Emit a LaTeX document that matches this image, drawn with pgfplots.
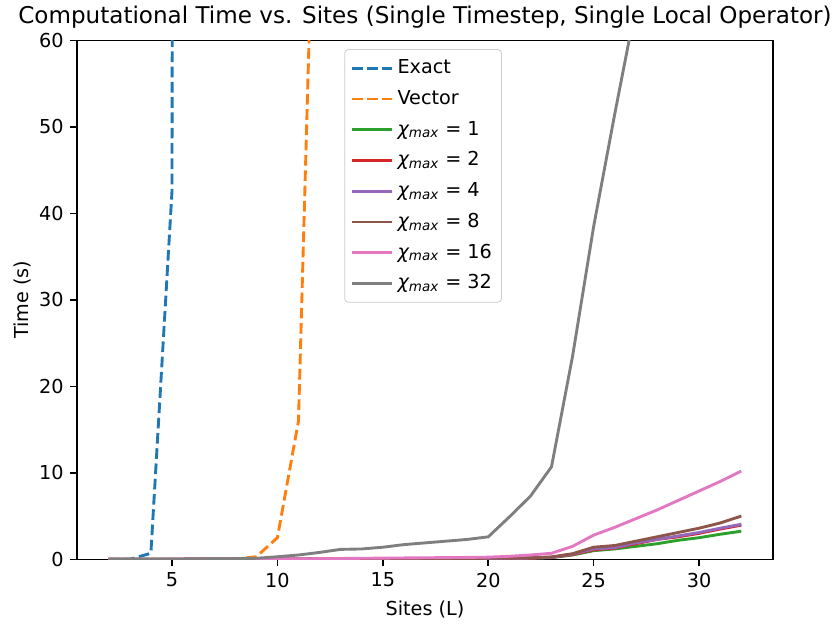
\documentclass[border=0pt]{standalone}
\usepackage{fontspec}
\setmainfont{DejaVu Sans}[ItalicFont={DejaVu Sans Oblique}]
\usepackage{pgfplots}
\usepackage{pgfplotstable}
\pgfplotsset{compat=1.18}
\definecolor{c0}{HTML}{1F77B4}
\definecolor{c1}{HTML}{FF7F0E}
\definecolor{c2}{HTML}{2CA02C}
\definecolor{c3}{HTML}{D62728}
\definecolor{c4}{HTML}{9467BD}
\definecolor{c5}{HTML}{8C564B}
\definecolor{c6}{HTML}{E377C2}
\definecolor{c7}{HTML}{7F7F7F}
\definecolor{lgd}{HTML}{CCCCCC}
\pgfplotstableread{
L exact
2 0.0005
3 0.01
4 0.7
5 42.5
6 1500
}\exact
\pgfplotstableread{
L vec
2 0.001
3 0.001
4 0.002
5 0.003
6 0.005
7 0.01
8 0.03
9 0.3
10 2.5
11 16
12 104
}\vect
\pgfplotstableread{
L c1 c2 c4 c8 c16 c32
2 0.01 0.01 0.01 0.01 0.01 0.02
3 0.01 0.01 0.01 0.01 0.01 0.02
4 0.01 0.01 0.01 0.01 0.01 0.03
5 0.01 0.01 0.01 0.01 0.02 0.03
6 0.02 0.02 0.02 0.02 0.02 0.04
7 0.02 0.02 0.02 0.02 0.03 0.05
8 0.02 0.02 0.02 0.03 0.03 0.07
9 0.03 0.03 0.03 0.03 0.04 0.12
10 0.03 0.03 0.03 0.04 0.05 0.3
11 0.03 0.03 0.04 0.04 0.06 0.5
12 0.04 0.04 0.04 0.05 0.08 0.8
13 0.04 0.04 0.05 0.05 0.1 1.15
14 0.04 0.05 0.05 0.06 0.12 1.2
15 0.05 0.05 0.06 0.07 0.14 1.4
16 0.05 0.06 0.06 0.08 0.16 1.7
17 0.06 0.06 0.07 0.09 0.18 1.9
18 0.06 0.07 0.08 0.1 0.2 2.1
19 0.07 0.08 0.09 0.11 0.22 2.3
20 0.08 0.09 0.1 0.12 0.25 2.6
21 0.1 0.11 0.12 0.14 0.35 4.9
22 0.13 0.14 0.15 0.18 0.5 7.3
23 0.2 0.22 0.24 0.28 0.7 10.7
24 0.5 0.55 0.6 0.65 1.5 23.5
25 1.0 1.1 1.2 1.4 2.8 38.5
26 1.2 1.3 1.35 1.6 3.7 51.5
27 1.5 1.8 1.9 2.1 4.7 64
28 1.8 2.3 2.3 2.6 5.7 80
29 2.2 2.6 2.7 3.1 6.8 95
30 2.5 3.0 3.1 3.6 7.9 110
31 2.9 3.5 3.6 4.2 9.0 125
32 3.25 3.95 4.05 5.0 10.2 140
}\mps
\begin{document}
\begin{tikzpicture}
\begin{axis}[
  width=362pt, height=270pt, scale only axis,
  xmin=0.5, xmax=33.5, ymin=0, ymax=60,
  xtick={5,10,...,30}, ytick={0,10,...,60},
  tick align=outside, tick pos=left,
  major tick length=3.5pt,
  every tick/.style={black, line width=0.8pt},
  axis line style={line width=0.8pt},
  /pgf/number format/assume math mode=true,
  ticklabel style={font=\fontsize{10}{12}\selectfont},
  title={Computational Time vs. Sites (Single Timestep, Single Local Operator)},
  title style={font=\fontsize{12}{14}\selectfont, yshift=-3.5pt},
  xlabel={Sites (L)}, ylabel={Time (s)},
  label style={font=\fontsize{10}{12}\selectfont},
  ylabel style={yshift=-2.5pt},
  legend cell align=left,
  legend style={at={(0.384,0.983)}, anchor=north west,
    draw=lgd, rounded corners=2pt, fill=white, fill opacity=0.8, text opacity=1,
    font=\fontsize{10}{12}\selectfont,
    row sep=2.5pt, inner sep=3pt,
    nodes={text height=7.5pt, text depth=2pt, inner sep=2pt}},
  legend image code/.code={\draw[#1] (0pt,0pt) -- (21pt,0pt);},
  every axis plot/.append style={line width=1.5pt},
]
\addplot[c0, dash pattern=on 5.55pt off 2.4pt] table[x=L,y=exact]{\exact};
\addlegendentry{Exact}
\addplot[c1, dash pattern=on 5.55pt off 2.4pt] table[x=L,y=vec]{\vect};
\addlegendentry{Vector}
\addplot[c2] table[x=L,y=c1]{\mps};
\addlegendentry{\textit{χ\textsubscript{max}} = 1}
\addplot[c3] table[x=L,y=c2]{\mps};
\addlegendentry{\textit{χ\textsubscript{max}} = 2}
\addplot[c4] table[x=L,y=c4]{\mps};
\addlegendentry{\textit{χ\textsubscript{max}} = 4}
\addplot[c5] table[x=L,y=c8]{\mps};
\addlegendentry{\textit{χ\textsubscript{max}} = 8}
\addplot[c6] table[x=L,y=c16]{\mps};
\addlegendentry{\textit{χ\textsubscript{max}} = 16}
\addplot[c7] table[x=L,y=c32]{\mps};
\addlegendentry{\textit{χ\textsubscript{max}} = 32}
\end{axis}
\path ([shift={(-40.1pt,-33.9pt)}]current axis.south west) rectangle ([shift={(34.9pt,20.3pt)}]current axis.north east);
\end{tikzpicture}
\end{document}
